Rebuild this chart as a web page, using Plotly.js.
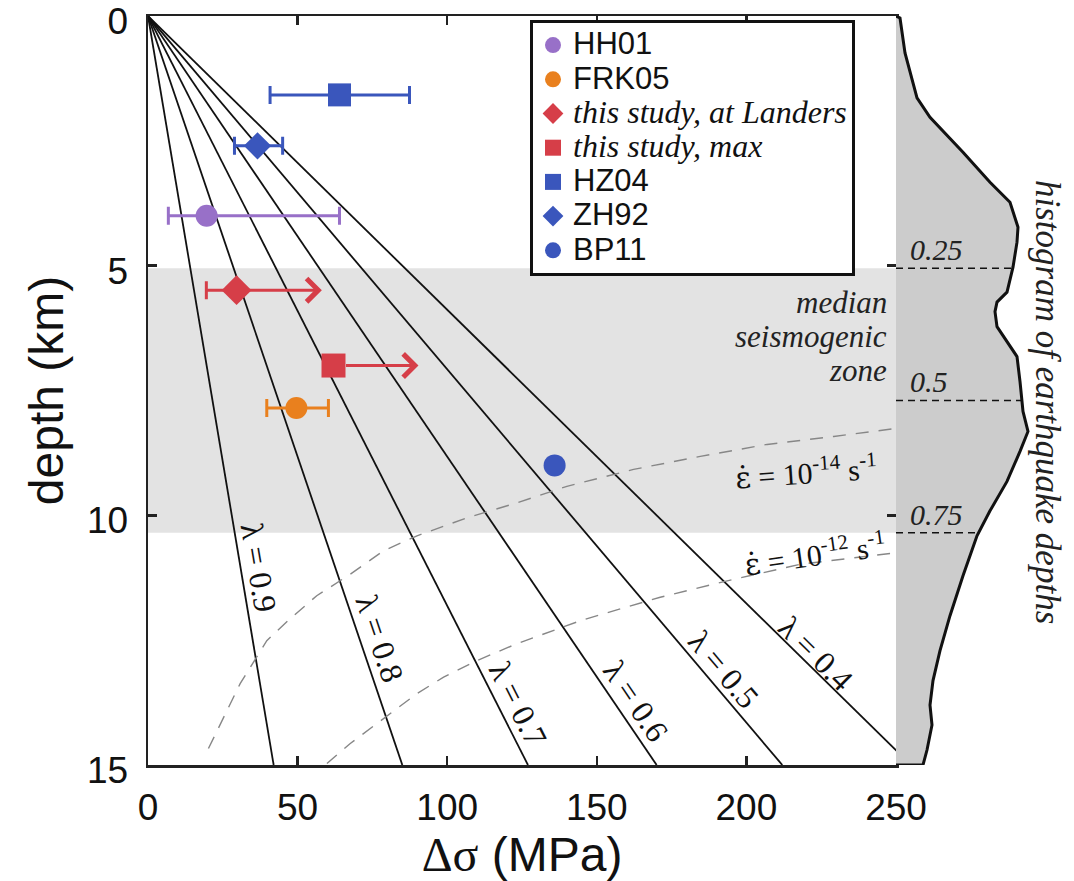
<!DOCTYPE html>
<html><head><meta charset="utf-8">
<script src="https://cdn.plot.ly/plotly-3.0.1.min.js"></script>
<style>html,body{margin:0;padding:0;background:#fff}#chart{width:1074px;height:881px}</style>
</head><body><div id="chart"></div>
<script>
// ---- data ----
const seriesNames = ['HH01', 'FRK05', 'this study, at Landers', 'this study, max', 'HZ04', 'ZH92', 'BP11'];
const stressMPa = [19.6, 49.6, 29.6, 62.0, 64.0, 36.6, 135.9];
const depthKm = [4.0, 7.85, 5.49, 7.0, 1.58, 2.6, 9.0];
const stressLowMPa = [6.8, 39.7, 19.5, null, 40.8, 28.9, null];
const stressHighMPa = [64.0, 60.3, 58.1, 90.4, 87.4, 45.0, null];
const highIsLowerBound = [false, false, true, true, false, false, false];

const lambdaValues = [0.9, 0.8, 0.7, 0.6, 0.5, 0.4];
const lambdaStressAt15km = [42, 85, 127, 170, 212, 255];
const lambdaLineDepth = [0, 15];

const strain14Stress = [20.2, 30.8, 39.7, 47.5, 56.4, 67.6, 78.7, 89.9, 106.6, 123.3, 140, 162.3, 184.6, 206.9, 229.2, 250];
const strain14Depth = [14.67, 13.37, 12.51, 12.07, 11.61, 11.18, 10.71, 10.41, 10.05, 9.75, 9.42, 9.08, 8.82, 8.58, 8.42, 8.26];
const strain12Stress = [59.8, 67.6, 76.5, 89.9, 98.8, 109.9, 123.3, 145, 171.2, 195.8, 218.1, 240.4, 250];
const strain12Depth = [14.97, 14.57, 14.17, 13.57, 13.24, 12.91, 12.57, 12.1, 11.64, 11.28, 10.98, 10.81, 10.75];

const histDepthKm = [0, 0.04, 0.74, 1.64, 2.03, 2.73, 3.33, 3.73, 4.23, 4.53, 5.03, 5.53, 5.73, 5.92, 6.22, 6.52, 6.82, 7.32, 7.92, 8.32, 8.72, 9.32, 9.91, 10.41, 10.81, 11.21, 12.01, 12.71, 13.31, 13.8, 14.2, 14.7, 15];
const histCount = [0, 4, 9, 21, 34, 67, 94, 114, 122, 121, 117, 111, 101, 99, 101, 111, 121, 124, 127, 132, 124, 111, 94, 81, 74, 67, 54, 44, 37, 34, 36, 31, 27];
const quantileLevels = ['0.25', '0.5', '0.75'];
const quantileDepthKm = [5.05, 7.7, 10.35];

const xTicks = [0, 50, 100, 150, 200, 250];
const yTicks = [0, 5, 10, 15];

// ---- styles ----
const seriesColors = ['rgb(152,112,200)', 'rgb(233,128,30)', 'rgb(214,62,72)', 'rgb(214,62,72)', 'rgb(58,86,188)', 'rgb(58,86,188)', 'rgb(58,86,188)'];
const seriesSymbols = ['circle', 'circle', 'diamond', 'square', 'square', 'diamond', 'circle'];
const seriesSizes = [22, 22, 23, 24, 23, 21, 22];
const seriesSerif = [false, false, true, true, false, false, false];

const SANS = 'Liberation Sans, Arial, sans-serif';
const SERIF = 'Liberation Serif, Times New Roman, serif';

const traces = [];
// lambda lines
lambdaValues.forEach((lam, i) => {
  traces.push({type: 'scatter', mode: 'lines', x: [0, lambdaStressAt15km[i]], y: lambdaLineDepth,
    line: {color: '#111', width: 1.8}, showlegend: false, hoverinfo: 'skip', xaxis: 'x', yaxis: 'y'});
});
// strain-rate curves
[[strain14Stress, strain14Depth], [strain12Stress, strain12Depth]].forEach(([xs, ys]) => {
  traces.push({type: 'scatter', mode: 'lines', x: xs, y: ys,
    line: {color: 'rgb(135,135,135)', width: 1.4, dash: '13px,10px'}, showlegend: false, hoverinfo: 'skip'});
});
// histogram
traces.push({type: 'scatter', mode: 'lines', x: histCount.concat([0]), y: histDepthKm.concat([15]),
  fill: 'toself', fillcolor: 'rgb(204,204,204)', line: {color: '#111', width: 3},
  xaxis: 'x2', yaxis: 'y', showlegend: false, hoverinfo: 'skip'});
function histAt(d) {
  for (let k = 1; k < histDepthKm.length; k++) {
    if (d <= histDepthKm[k]) {
      const t = (d - histDepthKm[k - 1]) / (histDepthKm[k] - histDepthKm[k - 1]);
      return histCount[k - 1] + t * (histCount[k] - histCount[k - 1]);
    }
  }
  return histCount[histCount.length - 1];
}
quantileDepthKm.forEach(q => {
  traces.push({type: 'scatter', mode: 'lines', x: [0, histAt(q)], y: [q, q],
    line: {color: '#111', width: 1.5, dash: '7px,5px'}, xaxis: 'x2', yaxis: 'y', showlegend: false, hoverinfo: 'skip'});
});

const annotations = [];
// data series
seriesNames.forEach((nm, i) => {
  const lo = stressLowMPa[i], hi = stressHighMPa[i], x = stressMPa[i];
  const hasErr = lo !== null || (hi !== null && !highIsLowerBound[i]);
  const label = seriesSerif[i]
    ? '<span style="font-family:\'Liberation Serif\';font-size:32px"><i>' + nm + '</i></span>'
    : '<span style="font-size:31px">' + nm + '</span>';
  const tr = {type: 'scatter', mode: 'markers', x: [x], y: [depthKm[i]], name: label,
    marker: {color: seriesColors[i], symbol: seriesSymbols[i], size: seriesSizes[i], line: {width: 0}},
    xaxis: 'x', yaxis: 'y', hovertext: [nm], hoverinfo: 'x+y+text'};
  if (hasErr) {
    tr.error_x = {type: 'data', symmetric: false,
      array: [(hi !== null && !highIsLowerBound[i]) ? hi - x : 0],
      arrayminus: [lo !== null ? x - lo : 0],
      color: seriesColors[i], thickness: 3, width: 9};
  }
  traces.push(tr);
  if (highIsLowerBound[i] && hi !== null) {
    annotations.push({x: hi, y: depthKm[i], ax: x, ay: depthKm[i], xref: 'x', yref: 'y', axref: 'x', ayref: 'y',
      showarrow: true, arrowhead: 4, arrowsize: 1.5, arrowwidth: 3, arrowcolor: seriesColors[i], startstandoff: 11, text: ''});
  }
});

// lambda labels
const lambdaLabelPos = [[37.1, 11.05, 80.4], [77.6, 12.47, 71.3], [123.7, 13.78, 63.2], [163, 13.72, 56.0], [192.6, 13.09, 49.9], [223.4, 12.77, 44.7]];
lambdaValues.forEach((lam, i) => {
  const p = lambdaLabelPos[i];
  annotations.push({x: p[0], y: p[1], xref: 'x', yref: 'y', text: 'λ = ' + lam.toFixed(1), showarrow: false,
    textangle: p[2], font: {family: SERIF, size: 32, color: '#111'}});
});
// strain-rate labels
const epsDot = '<span style="font-family:\'DejaVu Serif\'">\u03B5\u0307</span>';
annotations.push({x: 220, y: 9.12, xref: 'x', yref: 'y', showarrow: false, textangle: -4,
  text: epsDot + ' = 10<sup>-14</sup> s<sup>-1</sup>', font: {family: SERIF, size: 30, color: '#111'}});
annotations.push({x: 223, y: 10.77, xref: 'x', yref: 'y', showarrow: false, textangle: -8,
  text: epsDot + ' = 10<sup>-12</sup> s<sup>-1</sup>', font: {family: SERIF, size: 30, color: '#111'}});
// median seismogenic zone
[['median', 5.73], ['seismogenic', 6.42], ['zone', 7.10]].forEach(([t, y]) => {
  annotations.push({x: 247.3, y: y, xref: 'x', yref: 'y', xanchor: 'right', showarrow: false, borderpad: 0,
    text: '<i>' + t + '</i>', font: {family: SERIF, size: 31, color: '#222'}});
});
// quantile labels
quantileLevels.forEach((q, i) => {
  annotations.push({x: 12, y: quantileDepthKm[i], xref: 'x2', yref: 'y', xanchor: 'left', yanchor: 'bottom',
    showarrow: false, text: '<i>' + q + '</i>', font: {family: SERIF, size: 30, color: '#222'}});
});
annotations.push({x: 1047 / 1074, y: 7.73, xref: 'paper', yref: 'y', xanchor: 'center', yanchor: 'middle',
  showarrow: false, textangle: 90,
  text: '<i>histogram of earthquake depths</i>', font: {family: SERIF, size: 35, color: '#222'}});

const axisStyle = {
  ticks: 'inside', ticklen: 9, tickwidth: 2.5, tickcolor: '#222',
  showline: true, linewidth: 2.5, linecolor: '#222', mirror: 'ticks',
  showgrid: false, zeroline: false, ticklabeloverflow: 'allow',
  tickfont: {family: SANS, size: 37, color: '#111'}
};

const layout = {
  width: 1074, height: 881,
  margin: {l: 0, r: 0, t: 16, b: 116},
  paper_bgcolor: '#fff', plot_bgcolor: 'rgba(0,0,0,0)',
  font: {family: SANS, color: '#111'},
  xaxis: Object.assign({}, axisStyle, {domain: [148 / 1074, 896 / 1074], range: [0, 250], tickvals: xTicks,
    ticklabelstandoff: 8, anchor: 'y',
    title: {text: '<span style="font-family:\'Liberation Serif\'">Δσ</span> (MPa)', font: {family: SANS, size: 48, color: '#111'}, standoff: 18}}),
  xaxis2: {domain: [896 / 1074, 1036 / 1074], range: [0, 140], visible: false, anchor: 'y', fixedrange: true},
  yaxis: Object.assign({}, axisStyle, {domain: [0, 1], range: [15, 0], tickvals: yTicks, anchor: 'x',
    ticklabelstandoff: 10, ticklabelshift: -5,
    title: {text: 'depth (km)', font: {family: SANS, size: 48, color: '#111'}, standoff: 8}}),
  shapes: [{type: 'rect', xref: 'x domain', yref: 'y', x0: 0, x1: 1, y0: quantileDepthKm[0], y1: quantileDepthKm[2],
    fillcolor: 'rgb(227,227,227)', line: {width: 0}, layer: 'below'}],
  legend: {x: 530 / 1074, y: (765 - 20) / 749, xanchor: 'left', yanchor: 'top',
    bgcolor: '#fff', bordercolor: '#111', borderwidth: 3, entrywidth: 310, entrywidthmode: 'pixels',
    font: {family: SANS, size: 24, color: '#111'}, tracegroupgap: 0},
  showlegend: true,
  annotations: annotations
};

Plotly.newPlot('chart', traces, layout, {displayModeBar: false, staticPlot: true});
</script></body></html>
